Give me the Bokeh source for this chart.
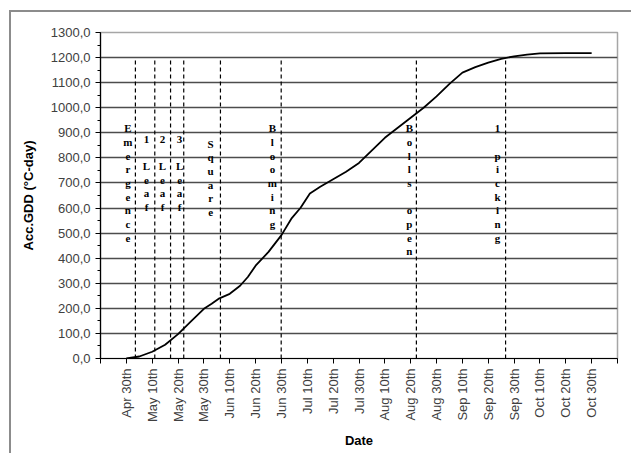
import math
from bokeh.plotting import figure
from bokeh.models import (FixedTicker, SingleIntervalTicker, CustomJSTickFormatter,
                          Range1d, ColumnDataSource)
from bokeh.core.properties import value
from bokeh.embed import file_html
from bokeh.resources import INLINE

# ---- data ----
tick_labels = ["", "Apr 30th", "May 10th", "May 20th", "May 30th", "Jun 10th", "Jun 20th",
               "Jun 30th", "Jul 10th", "Jul 20th", "Jul 30th", "Aug 10th", "Aug 20th",
               "Aug 30th", "Sep 10th", "Sep 20th", "Sep 30th", "Oct 10th", "Oct 20th",
               "Oct 30th", ""]

# x in units of the 10-day date ticks (1 = Apr 30th)
curve_x = [1.0, 1.5, 2.0, 2.5, 3.0, 3.5, 4.0, 4.3, 4.6, 5.0, 5.4, 5.7, 6.0, 6.5, 7.0,
           7.4, 7.74, 8.1, 8.5, 9.0, 9.5, 10.0, 10.5, 11.0, 11.5, 12.0, 12.5, 13.0,
           13.5, 14.0, 14.5, 15.0, 15.5, 16.0, 16.5, 17.0, 18.0, 19.0]
curve_gdd = [0, 8, 27, 55, 97, 148, 198, 218, 240, 258, 290, 325, 370, 425, 492,
             560, 601, 658, 685, 715, 745, 780, 830, 880, 920, 960, 1000, 1045,
             1095, 1140, 1162, 1180, 1195, 1205, 1212, 1217, 1218, 1218]

stage_names = ["Emergence", "1 Leaf", "2 Leaf", "3 Leaf", "Square", "Blooming",
               "Bolls open", "1 picking"]
stage_line_x = [1.35, 2.10, 2.71, 3.22, 4.64, 6.99, 12.22, 15.67]
stage_label_x = [1.06, 1.78, 2.40, 3.06, 4.26, 6.65, 11.95, 15.36]
stage_label_top = [942, 901, 901, 901, 881, 942, 942, 942]
stage_line_top = 1190

y_major = list(range(0, 1301, 100))
grid_lines = y_major[1:-1]

# ---- figure ----
p = figure(width=631, height=453, output_backend="svg", toolbar_location=None,
           x_range=Range1d(0, 20), y_range=Range1d(0, 1300),
           min_border_left=100, min_border_right=14, min_border_top=32,
           min_border_bottom=95)
# outer chart frame: thin grey band along the left and top edges
p.styles = {"box-shadow": "inset 9px 10px 0 0 white, inset 11px 12px 0 0 #8c8c8c"}
p.background_fill_color = "white"
p.border_fill_color = None
p.outline_line_color = "#a6a6a6"
p.outline_line_width = 1.5

p.xgrid.visible = False
p.ygrid.ticker = FixedTicker(ticks=grid_lines)
p.ygrid.grid_line_color = "#4d4d4d"
p.ygrid.grid_line_width = 1.3

# y axis
p.yaxis.ticker = SingleIntervalTicker(interval=100, num_minor_ticks=2)
p.yaxis.formatter = CustomJSTickFormatter(code="return tick.toFixed(1).replace('.', ',');")
p.yaxis.major_tick_out = 5
p.yaxis.major_tick_in = 0
p.yaxis.minor_tick_out = 3
p.yaxis.minor_tick_in = 0
p.yaxis.axis_label = "Acc.GDD (°C-day)"
p.yaxis.axis_label_standoff = 12

# x axis
p.xaxis.ticker = FixedTicker(ticks=list(range(len(tick_labels))))
p.xaxis.major_label_overrides = {i: t for i, t in enumerate(tick_labels)}
p.xaxis.major_label_orientation = math.pi / 2
p.xaxis.major_tick_out = 5
p.xaxis.major_tick_in = 0
p.xaxis.minor_tick_line_color = None
p.xaxis.axis_label = "Date"
p.xaxis.axis_label_standoff = 8

for ax in (p.xaxis, p.yaxis):
    ax.axis_line_color = "black"
    ax.axis_line_width = 1.2
    ax.major_tick_line_color = "black"
    ax.major_label_text_font = "Liberation Sans"
    ax.major_label_text_font_size = "13px"
    ax.major_label_text_color = "#404040"
    ax.axis_label_text_font = "Liberation Sans"
    ax.axis_label_text_font_size = "13px"
    ax.axis_label_text_font_style = "bold"
    ax.axis_label_text_color = "black"
p.yaxis.minor_tick_line_color = "black"

# stage dashed lines
p.segment(x0=stage_line_x, x1=stage_line_x, y0=[0] * len(stage_line_x),
          y1=[stage_line_top] * len(stage_line_x), line_color="black",
          line_width=1.2, line_dash="4 3")

# curve
p.line(curve_x, curve_gdd, line_color="black", line_width=1.8)

# stage labels, one letter per line
src = ColumnDataSource(dict(x=stage_label_x, y=stage_label_top,
                            t=["\n".join(list(n)) for n in stage_names]))
p.text(x="x", y="y", text="t", source=src, text_font=value("Liberation Serif"),
       text_font_style="bold", text_font_size="11px", text_align="center",
       text_baseline="top", text_line_height=1.14, text_color="black")

open("out.html", "w").write(file_html(p, INLINE))
